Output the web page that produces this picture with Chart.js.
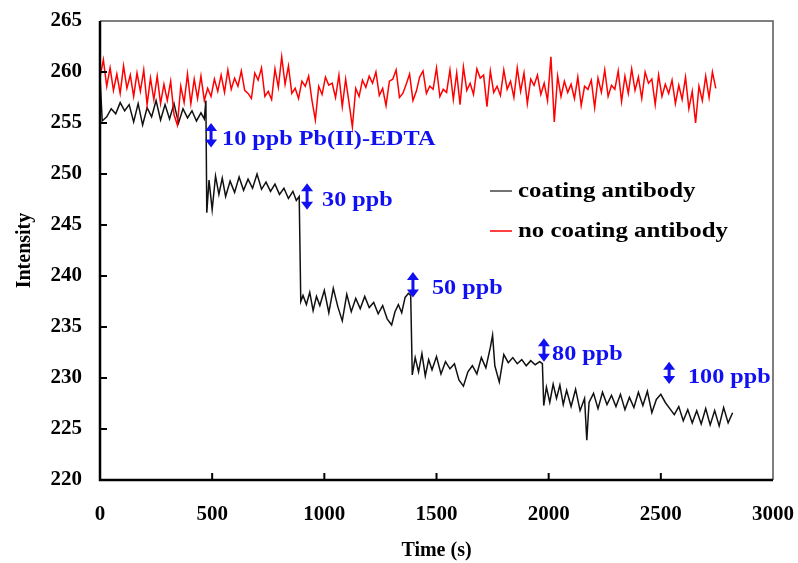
<!DOCTYPE html>
<html>
<head>
<meta charset="utf-8">
<script src="https://cdn.jsdelivr.net/npm/chart.js@4.4.1/dist/chart.umd.min.js"></script>
<style>
  html, body { margin: 0; padding: 0; background: #fff; }
  #wrap { width: 798px; height: 563px; }
</style>
</head>
<body>
<div id="wrap"><canvas id="chart" width="798" height="563"></canvas></div>
<script>
// ========== DATA ==========
const xTicks = [0, 500, 1000, 1500, 2000, 2500, 3000];
const yTicks = [220, 225, 230, 235, 240, 245, 250, 255, 260, 265];

// coating antibody (black trace)
const coatTimes = [
    0, 10, 30, 50, 70, 90, 110, 130, 150, 170, 190, 210, 230, 250, 270, 290, 310, 330, 350, 370, 390, 410, 430, 450, 465, 472,
    476, 486, 500, 515, 530, 545, 560, 580, 600, 620, 640, 660, 680, 700, 720, 740, 760, 780, 800, 820, 840, 860, 875, 888,
    895, 905, 920, 935, 950, 965, 980, 1000, 1020, 1040, 1060, 1080, 1100, 1120, 1140, 1160, 1180, 1200, 1220, 1240, 1260, 1280, 1300, 1315, 1330, 1345, 1360, 1375, 1385,
    1392, 1405, 1420, 1435, 1450, 1465, 1480, 1500, 1520, 1540, 1560, 1580, 1600, 1620, 1640, 1660, 1680, 1700, 1720, 1740, 1750, 1760, 1780, 1800, 1820, 1840, 1860, 1880, 1900, 1920, 1940, 1960, 1972,
    1978, 1990, 2005, 2020, 2035, 2050, 2065, 2080, 2100, 2120, 2140, 2160, 2170, 2180, 2200, 2220, 2240, 2260, 2280, 2300, 2320, 2340, 2360, 2380, 2400, 2420, 2440, 2460, 2480, 2500,
    2520, 2540, 2560, 2580, 2600, 2620, 2640, 2660, 2680, 2700, 2720, 2740, 2760, 2780, 2800, 2820
];
const coatValues = [
    259.5, 255.2, 255.6, 256.4, 255.9, 257.0, 256.2, 256.8, 255.1, 256.9, 254.8, 256.5, 255.6, 257.2, 255.3, 256.8, 255.4, 256.9, 255.0, 256.4, 255.5, 256.2, 255.2, 256.0, 255.4, 257.2,
    246.2, 249.4, 246.5, 249.8, 248.0, 249.6, 247.8, 249.3, 248.2, 249.7, 248.4, 249.5, 248.6, 250.0, 248.5, 249.2, 248.3, 249.0, 248.0, 248.6, 247.6, 248.3, 247.4, 247.8,
    237.5, 238.1, 237.2, 238.4, 236.6, 238.0, 237.1, 238.6, 236.4, 238.8, 237.0, 235.6, 238.2, 236.5, 237.8, 236.8, 238.0, 236.9, 237.4, 236.3, 237.1, 235.8, 235.2, 236.5, 237.2, 236.4, 237.9, 238.3, 238.1,
    230.3, 232.0, 230.6, 232.4, 230.2, 231.8, 230.8, 232.1, 230.4, 231.6, 230.9, 231.4, 229.8, 229.2, 230.6, 231.2, 230.4, 232.0, 231.0, 233.0, 234.2, 231.2, 229.6, 232.3, 231.5, 232.0, 231.4, 231.8, 231.2, 231.7, 231.3, 231.6, 231.4,
    227.3, 229.1, 227.6, 229.4, 228.0, 229.3, 227.4, 228.8, 227.2, 228.9, 226.8, 228.0, 223.9, 227.6, 228.5, 227.0, 228.6, 227.4, 228.3, 227.2, 228.4, 226.9, 228.1, 227.1, 228.6, 227.3, 228.7, 226.6, 227.9, 228.4,
    227.6, 227.0, 226.4, 227.2, 225.8, 226.9, 225.6, 226.8, 225.5, 227.0, 225.4, 226.8, 225.3, 227.1, 225.6, 226.6
];

// no coating antibody (red trace)
const bareTimes = [
    0, 15, 30, 45, 60, 75, 90, 105, 120, 135, 150, 165, 180, 195, 210, 225, 240, 255, 270, 285,
    300, 315, 330, 345, 360, 375, 390, 405, 420, 435, 450, 465, 480, 495, 510, 525, 540, 555, 570, 585,
    600, 615, 630, 645, 660, 675, 690, 705, 720, 735, 750, 765, 780, 795, 810, 825, 840, 855, 870, 885,
    900, 915, 930, 945, 960, 975, 990, 1005, 1020, 1035, 1050, 1065, 1080, 1095, 1110, 1125, 1140, 1155, 1170, 1185,
    1200, 1215, 1230, 1245, 1260, 1275, 1290, 1305, 1320, 1335, 1350, 1365, 1380, 1395, 1410, 1425, 1440, 1455, 1470, 1485,
    1500, 1515, 1530, 1545, 1560, 1575, 1590, 1605, 1620, 1635, 1650, 1665, 1680, 1695, 1710, 1725, 1740, 1755, 1770, 1785,
    1800, 1815, 1830, 1845, 1860, 1875, 1890, 1905, 1920, 1935, 1950, 1965, 1980, 1995, 2010, 2025, 2040, 2055, 2070, 2085,
    2100, 2115, 2130, 2145, 2160, 2175, 2190, 2205, 2220, 2235, 2250, 2265, 2280, 2295, 2310, 2325, 2340, 2355, 2370, 2385,
    2400, 2415, 2430, 2445, 2460, 2475, 2490, 2505, 2520, 2535, 2550, 2565, 2580, 2595, 2610, 2625, 2640, 2655, 2670, 2685,
    2700, 2715, 2730, 2745
];
const bareValues = [
    259.5, 261.2, 258.6, 260.4, 258.2, 259.8, 257.9, 260.6, 258.4, 259.7, 257.6, 259.9, 258.1, 260.2, 256.8, 259.4, 257.3, 259.6, 256.9, 258.8,
    257.2, 259.1, 255.8, 254.8, 258.6, 257.0, 259.8, 256.9, 259.3, 257.4, 259.6, 257.2, 258.4, 257.6, 259.3, 258.1, 259.7, 258.0, 260.2, 258.3,
    259.4, 258.6, 260.1, 258.2, 257.9, 257.4, 259.9, 259.2, 260.4, 257.6, 258.1, 257.3, 260.3, 258.5, 261.5, 258.8, 260.6, 257.9, 258.4, 257.4,
    259.1, 258.6, 259.6, 257.2, 255.3, 258.6, 257.8, 259.5, 258.7, 258.9, 257.5, 259.7, 256.6, 259.3, 257.0, 254.6, 258.4, 257.6, 259.2, 258.5,
    259.6, 258.9, 260.0, 257.7, 258.4, 256.7, 259.1, 259.3, 260.2, 257.5, 257.9, 258.8, 259.8, 257.2, 258.1, 259.5, 260.1, 257.9, 258.6, 258.3,
    260.4, 257.6, 258.3, 258.0, 260.2, 257.3, 259.9, 256.8, 260.5, 258.2, 258.9, 257.8, 260.3, 259.4, 259.7, 256.6, 260.1, 258.0, 258.6, 257.7,
    260.2, 258.3, 259.1, 257.5, 260.4, 258.1, 259.9, 256.9, 259.3, 258.7, 259.7, 257.8, 258.9, 257.2, 261.5, 255.1, 259.6, 257.6, 259.1, 258.0,
    258.8, 257.4, 259.5, 256.7, 258.6, 258.3, 259.2, 256.5, 259.4, 258.0, 260.2, 257.6, 258.7, 258.3, 260.1, 257.1, 259.6, 257.9, 260.3, 258.2,
    259.5, 257.4, 260.0, 258.9, 259.3, 256.8, 259.7, 257.6, 258.8, 257.9, 259.2, 256.9, 258.7, 257.3, 259.5, 256.4, 258.1, 255.0, 258.6, 257.2,
    259.6, 257.5, 260.0, 258.4
];

// concentration markers: time, arrow top / bottom, label
const markTimes = [495, 923, 1395, 1979, 2537];
const markTops = [255.0, 249.1, 240.4, 233.9, 231.6];
const markBottoms = [252.6, 246.5, 237.9, 231.6, 229.4];
const markLabelTimes = [544, 990, 1480, 2015, 2621];
const markLabels = ["10 ppb Pb(II)-EDTA", "30 ppb", "50 ppb", "80 ppb", "100 ppb"];

const seriesNames = ["coating antibody", "no coating antibody"];

// ========== HELPERS ==========
const serif = '"Liberation Serif", "Times New Roman", serif';
const blue = "#1010f0";

function toPoints(xs, ys) {
    return xs.map((x, i) => ({ x: x, y: ys[i] }));
}

// the source figure's lettering is a bit wide, so stretch it sideways
function wideText(ctx, text, x, y, sx) {
    ctx.save();
    ctx.translate(x, y);
    ctx.scale(sx, 1);
    ctx.fillText(text, 0, 0);
    ctx.restore();
}

function drawArrow(ctx, x, yTop, yBot) {
    const head = 7, half = 6;
    ctx.beginPath();
    ctx.moveTo(x, yTop + head - 1);
    ctx.lineTo(x, yBot - head + 1);
    ctx.stroke();
    ctx.beginPath();
    ctx.moveTo(x, yTop);
    ctx.lineTo(x - half, yTop + head + 1);
    ctx.lineTo(x + half, yTop + head + 1);
    ctx.closePath();
    ctx.fill();
    ctx.beginPath();
    ctx.moveTo(x, yBot);
    ctx.lineTo(x - half, yBot - head - 1);
    ctx.lineTo(x + half, yBot - head - 1);
    ctx.closePath();
    ctx.fill();
}

// no label overflow padding: the plot box is set by layout.padding alone
function noOverflow(s) {
    s.paddingTop = 0;
    s.paddingBottom = 0;
    s.paddingLeft = 0;
    s.paddingRight = 0;
}

// frame, inward ticks, markers and legend
const decorPlugin = {
    id: "decor",
    afterDraw(chart) {
        const { ctx, chartArea: a, scales: { x, y } } = chart;
        ctx.save();

        // thin top / right frame
        ctx.strokeStyle = "#555";
        ctx.lineWidth = 1.5;
        ctx.beginPath();
        ctx.moveTo(a.left, a.top);
        ctx.lineTo(a.right, a.top);
        ctx.lineTo(a.right, a.bottom);
        ctx.stroke();

        // heavy left / bottom axes
        ctx.strokeStyle = "#000";
        ctx.lineWidth = 2.5;
        ctx.beginPath();
        ctx.moveTo(a.left, a.top);
        ctx.lineTo(a.left, a.bottom);
        ctx.lineTo(a.right, a.bottom);
        ctx.stroke();

        // inward ticks
        ctx.lineWidth = 2;
        xTicks.slice(1, -1).forEach(v => {
            const px = x.getPixelForValue(v);
            ctx.beginPath();
            ctx.moveTo(px, a.bottom);
            ctx.lineTo(px, a.bottom - 7);
            ctx.stroke();
        });
        yTicks.slice(1, -1).forEach(v => {
            const py = y.getPixelForValue(v);
            ctx.beginPath();
            ctx.moveTo(a.left, py);
            ctx.lineTo(a.left + 7, py);
            ctx.stroke();
        });

        // concentration markers
        ctx.strokeStyle = blue;
        ctx.fillStyle = blue;
        ctx.lineWidth = 3;
        ctx.font = "bold 22px " + serif;
        ctx.textBaseline = "middle";
        ctx.textAlign = "left";
        markTimes.forEach((t, i) => {
            const px = x.getPixelForValue(t);
            const top = y.getPixelForValue(markTops[i]);
            const bot = y.getPixelForValue(markBottoms[i]);
            drawArrow(ctx, px, top, bot);
            wideText(ctx, markLabels[i], x.getPixelForValue(markLabelTimes[i]), (top + bot) / 2 + 4, 1.1);
        });

        // legend
        const colors = ["#444", "#ff0000"];
        const lx = a.left + 390, ly = a.top + 170;
        ctx.font = "bold 22px " + serif;
        seriesNames.forEach((name, i) => {
            const yy = ly + i * 40;
            ctx.strokeStyle = colors[i];
            ctx.lineWidth = 1.5;
            ctx.beginPath();
            ctx.moveTo(lx, yy);
            ctx.lineTo(lx + 22, yy);
            ctx.stroke();
            ctx.fillStyle = "#000";
            wideText(ctx, name, lx + 28, yy, 1.13);
        });

        ctx.restore();
    }
};

// ========== CHART ==========
const chart = new Chart(document.getElementById("chart").getContext("2d"), {
    type: "scatter",
    data: {
        datasets: [
            {
                label: seriesNames[1],
                data: toPoints(bareTimes, bareValues),
                showLine: true,
                borderColor: "#ff0000",
                borderWidth: 1.5,
                pointRadius: 0,
                tension: 0
            },
            {
                label: seriesNames[0],
                data: toPoints(coatTimes, coatValues),
                showLine: true,
                borderColor: "#111",
                borderWidth: 1.5,
                pointRadius: 0,
                tension: 0
            }
        ]
    },
    options: {
        responsive: false,
        animation: false,
        layout: { padding: { left: 0, right: 25, top: 21, bottom: 0 } },
        plugins: {
            legend: { display: false },
            tooltip: { enabled: false }
        },
        scales: {
            x: {
                type: "linear",
                min: 0,
                max: 3000,
                afterBuildTicks: s => { s.ticks = xTicks.map(v => ({ value: v })); },
                afterFit: s => { s.height = 83; noOverflow(s); },
                grid: { display: false, drawTicks: false },
                border: { display: false },
                ticks: {
                    color: "#000",
                    padding: 22,
                    maxRotation: 0,
                    callback: v => String(v),
                    font: { family: serif, size: 21, weight: "bold" }
                },
                title: {
                    display: true,
                    text: "Time (s)",
                    color: "#000",
                    padding: { top: 17, bottom: 0 },
                    font: { family: serif, size: 20, weight: "bold" }
                }
            },
            y: {
                type: "linear",
                min: 220,
                max: 265,
                afterBuildTicks: s => { s.ticks = yTicks.map(v => ({ value: v })); },
                afterFit: s => { s.width = 100; noOverflow(s); },
                grid: { display: false, drawTicks: false },
                border: { display: false },
                ticks: {
                    color: "#000",
                    padding: 18,
                    font: { family: serif, size: 21, weight: "bold" }
                },
                title: {
                    display: true,
                    text: "Intensity",
                    color: "#000",
                    padding: { top: 13, bottom: 0 },
                    font: { family: serif, size: 20, weight: "bold" }
                }
            }
        }
    },
    plugins: [decorPlugin]
});
</script>
</body>
</html>
